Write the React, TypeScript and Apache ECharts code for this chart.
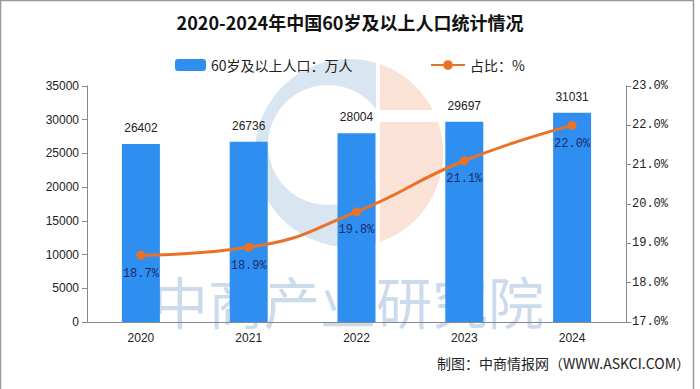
import React, { useEffect, useRef } from "react";
import * as echarts from "echarts";

const years = ["2020", "2021", "2022", "2023", "2024"];
const population = [26402, 26736, 28004, 29697, 31031];
const share = [18.7, 18.9, 19.8, 21.1, 22.0];
const barName = "60岁及以上人口：万人";
const lineName = "占比：%";
const title = "2020-2024年中国60岁及以上人口统计情况";
const source = "制图：中商情报网（WWW.ASKCI.COM）";
const watermark = "中商产业研究院";

const SANS = "'Liberation Sans', Arial, 'Noto Sans CJK SC', sans-serif";
const MONO = "'Liberation Mono', 'DejaVu Sans Mono', 'Noto Sans CJK SC', monospace";
const CJK = "'Noto Sans CJK SC', sans-serif";

// decorative logo watermark geometry
const LOGO_CX = 349;
const LOGO_CY = 153;
const LOGO_R = 94;
const LOGO_SPLIT = 380;

function orangeSegment(): number[][] {
  const pts: number[][] = [];
  const dx = LOGO_SPLIT - LOGO_CX;
  const a = Math.acos(dx / LOGO_R);
  const n = 30;
  for (let i = 0; i <= n; i++) {
    const t = -a + (2 * a * i) / n;
    pts.push([LOGO_CX + LOGO_R * Math.cos(t), LOGO_CY + LOGO_R * Math.sin(t)]);
  }
  return pts;
}

export default function App() {
  const ref = useRef<HTMLDivElement>(null);
  useEffect(() => {
    if (!ref.current) return;
    const chart = echarts.init(ref.current, null, { renderer: "svg" });
    chart.setOption({
      animation: false,
      backgroundColor: "#ffffff",
      title: {
        text: title,
        left: "center",
        top: 8,
        textStyle: { fontSize: 18, fontWeight: "bold", color: "#111", fontFamily: CJK },
      },
      legend: [
        {
          data: [barName],
          left: 170,
          top: 53,
          itemWidth: 31,
          itemHeight: 12,
          textStyle: { fontSize: 14, color: "#222", fontFamily: CJK },
        },
        {
          data: [lineName],
          left: 425,
          top: 53,
          itemWidth: 34,
          itemHeight: 12,
          textStyle: { fontSize: 14, color: "#222", fontFamily: CJK },
        },
      ],
      grid: { left: 87, right: 74, top: 86, bottom: 67 },
      xAxis: {
        type: "category",
        data: years,
        axisLine: { lineStyle: { color: "#888" } },
        axisTick: { lineStyle: { color: "#888" }, length: 5 },
        axisLabel: { fontSize: 12, color: "#222", fontFamily: SANS, margin: 10 },
      },
      yAxis: [
        {
          type: "value",
          min: 0,
          max: 35000,
          interval: 5000,
          splitLine: { show: false },
          axisLine: { show: true, lineStyle: { color: "#888" } },
          axisTick: { show: true, lineStyle: { color: "#888" }, length: 5 },
          axisLabel: {
            fontSize: 12,
            color: "#222",
            fontFamily: SANS,
            margin: 8,
            formatter: (v: number) => String(v),
          },
        },
        {
          type: "value",
          min: 17,
          max: 23,
          interval: 1,
          splitLine: { show: false },
          axisLine: { show: true, lineStyle: { color: "#888" } },
          axisTick: { show: true, lineStyle: { color: "#888" }, length: 5 },
          axisLabel: {
            fontSize: 12,
            color: "#222",
            fontFamily: MONO,
            margin: 6,
            formatter: (v: number) => v.toFixed(1) + "%",
          },
        },
      ],
      graphic: [
        {
          type: "circle",
          z: -10,
          shape: { cx: LOGO_CX, cy: LOGO_CY, r: LOGO_R },
          style: { fill: "#d9e6f1" },
        },
        {
          type: "circle",
          z: -9,
          shape: { cx: 328, cy: 145, r: 60 },
          style: { fill: "#ffffff" },
        },
        {
          type: "rect",
          z: -9,
          shape: { x: LOGO_SPLIT - 4, y: 50, width: 4, height: 210 },
          style: { fill: "#ffffff" },
        },
        {
          type: "polygon",
          z: -8,
          shape: { points: orangeSegment() },
          style: { fill: "#fae3d6" },
        },
        {
          type: "rect",
          z: -7,
          shape: { x: LOGO_SPLIT - 2, y: 110, width: 80, height: 12 },
          style: { fill: "#ffffff" },
        },
        {
          type: "text",
          z: -5,
          left: 152,
          top: 271,
          style: {
            text: watermark,
            fontSize: 56,
            lineHeight: 54,
            fontFamily: CJK,
            fill: "rgba(110,155,200,0.36)",
          },
        },
        {
          type: "text",
          right: 10,
          top: 356,
          style: { text: source, fontSize: 14, fontFamily: CJK, fill: "#222" },
        },
        {
          type: "rect",
          z: 100,
          shape: { x: 0.5, y: 0.5, width: 693, height: 400 },
          style: { fill: "none", stroke: "#999", lineWidth: 1.5 },
        },
      ],
      series: [
        {
          name: barName,
          type: "bar",
          data: population,
          barWidth: 38,
          itemStyle: { color: "#2f8ff0" },
          label: {
            show: true,
            position: "top",
            distance: 10,
            fontSize: 12,
            color: "#222",
            fontFamily: SANS,
          },
        },
        {
          name: lineName,
          type: "line",
          yAxisIndex: 1,
          data: share,
          smooth: true,
          symbol: "circle",
          symbolSize: 9,
          lineStyle: { color: "#ea7227", width: 3 },
          itemStyle: { color: "#ea7227" },
          label: {
            show: true,
            position: "bottom",
            distance: 8,
            fontSize: 12,
            color: "#1b2a6b",
            fontFamily: MONO,
            formatter: (p: any) => Number(p.value).toFixed(1) + "%",
          },
        },
      ],
    });
    return () => chart.dispose();
  }, []);
  return <div ref={ref} style={{ width: 700, height: 389, position: "fixed", left: 0, top: 0 }} />;
}
